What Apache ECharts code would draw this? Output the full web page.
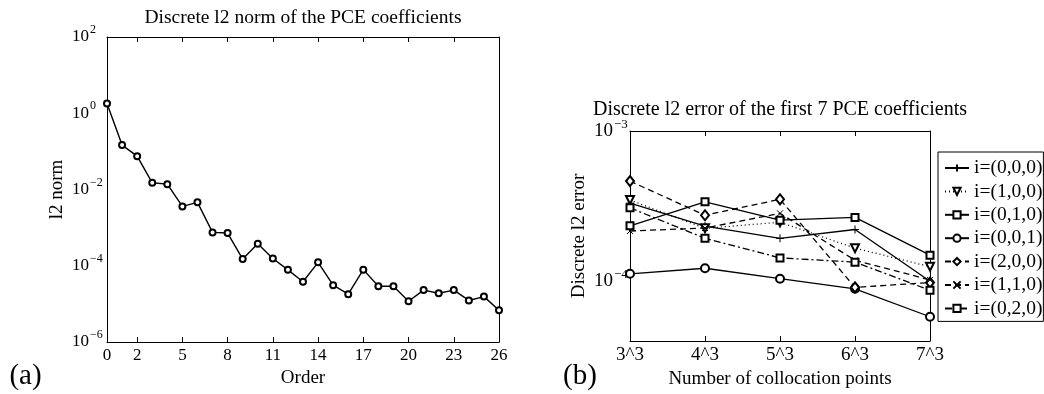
<!DOCTYPE html>
<html>
<head>
<meta charset="utf-8">
<script src="https://cdn.jsdelivr.net/npm/echarts@6/dist/echarts.min.js"></script>
<style>
html, body { margin: 0; padding: 0; background: #fff; }
#chart { width: 1044px; height: 394px; }
</style>
</head>
<body>
<div id="chart"></div>
<script>
// left panel: l2 norm per order
const orders = ['0','1','2','3','4','5','6','7','8','9','10','11','12','13','14','15','16','17','18','19','20','21','22','23','24','25','26'];
const orderTicks = [0, 2, 5, 8, 11, 14, 17, 20, 23, 26];
const l2Norm = [1.8, 0.146, 0.075, 0.015, 0.0138, 0.0036, 0.0046, 7.5e-4, 7.2e-4, 1.5e-4,
    3.8e-4, 1.55e-4, 7.8e-5, 3.8e-5, 1.23e-4, 3.1e-5, 1.8e-5, 7.9e-5, 2.9e-5, 2.9e-5,
    1.17e-5, 2.3e-5, 1.9e-5, 2.3e-5, 1.23e-5, 1.55e-5, 6.8e-6];

// right panel: error of the first 7 coefficients
const points = ['3^3', '4^3', '5^3', '6^3', '7^3'];
const err000 = [3.31e-4, 2.33e-4, 1.93e-4, 2.21e-4, 1.0e-4];
const err100 = [3.47e-4, 2.25e-4, 2.47e-4, 1.66e-4, 1.25e-4];
const err010 = [2.34e-4, 3.38e-4, 2.55e-4, 2.66e-4, 1.49e-4];
const err001 = [1.12e-4, 1.22e-4, 1.04e-4, 8.9e-5, 5.8e-5];
const err200 = [4.64e-4, 2.75e-4, 3.51e-4, 9.1e-5, 9.8e-5];
const err110 = [2.16e-4, 2.26e-4, 2.83e-4, 1.38e-4, 1.02e-4];
const err020 = [3.08e-4, 1.93e-4, 1.43e-4, 1.34e-4, 8.7e-5];

const FONT = 'Liberation Serif';
const PLUS = 'path://M0,5L10,5M5,0L5,10';
const CROSS = 'path://M0,0L10,10M10,0L0,10';

function powLabel(v) {
    const e = Math.round(Math.log10(v));
    if (Math.abs(Math.log10(v) - e) > 1e-6) return '';
    return '{b|10}{s|' + (e < 0 ? '\u2212' + (-e) : e) + '}';
}
function powRich(size) {
    return {
        b: { fontFamily: FONT, fontSize: size, color: '#000', lineHeight: 26, verticalAlign: 'middle' },
        s: { fontFamily: FONT, fontSize: Math.round(size * 0.7), color: '#000', verticalAlign: 'top', padding: [0, 0, 0, 1] }
    };
}

const tickSet = new Set(orderTicks);
const showOrder = (idx) => tickSet.has(idx);

const axisLine = { show: true, lineStyle: { color: '#000', width: 1 } };

function mirrorX(gridIndex, data, interval) {
    return {
        type: 'category', gridIndex: gridIndex, position: 'top', data: data, boundaryGap: false,
        axisLine: axisLine, axisLabel: { show: false },
        axisTick: { inside: true, length: 5, interval: interval, lineStyle: { color: '#000' } },
        splitLine: { show: false }
    };
}

const option = {
    animation: false,
    backgroundColor: '#fff',
    grid: [
        { left: 107, top: 37, width: 392, height: 305, outerBoundsMode: 'none', containLabel: false },
        { left: 630, top: 131, width: 300, height: 210, outerBoundsMode: 'none', containLabel: false }
    ],
    xAxis: [
        {
            type: 'category', gridIndex: 0, data: orders, boundaryGap: false,
            name: 'Order', nameLocation: 'middle', nameGap: 21,
            nameTextStyle: { fontFamily: FONT, fontSize: 19, color: '#000' },
            axisLine: axisLine,
            axisTick: { inside: true, length: 5, interval: showOrder, lineStyle: { color: '#000' } },
            axisLabel: { interval: showOrder, margin: 5, fontFamily: FONT, fontSize: 17, color: '#000' },
            splitLine: { show: false }
        },
        mirrorX(0, orders, showOrder),
        {
            type: 'category', gridIndex: 1, data: points, boundaryGap: false,
            name: 'Number of collocation points', nameLocation: 'middle', nameGap: 23,
            nameTextStyle: { fontFamily: FONT, fontSize: 19, color: '#000' },
            axisLine: axisLine,
            axisTick: { inside: true, length: 5, lineStyle: { color: '#000' } },
            axisLabel: { margin: 5, fontFamily: FONT, fontSize: 19, color: '#000' },
            splitLine: { show: false }
        },
        mirrorX(1, points, 0)
    ],
    yAxis: [
        {
            type: 'log', gridIndex: 0, min: 1e-6, max: 1e2, interval: 2,
            name: 'l2 norm', nameLocation: 'middle', nameGap: 40,
            nameTextStyle: { fontFamily: FONT, fontSize: 19, color: '#000' },
            axisLine: axisLine,
            axisTick: { inside: true, length: 5, lineStyle: { color: '#000' } },
            axisLabel: { margin: 35, align: 'left', formatter: powLabel, rich: powRich(17) },
            splitLine: { show: false }
        },
        {
            type: 'log', gridIndex: 0, position: 'right', min: 1e-6, max: 1e2, interval: 2,
            axisLine: axisLine, axisLabel: { show: false },
            axisTick: { inside: true, length: 5, lineStyle: { color: '#000' } },
            splitLine: { show: false }
        },
        {
            type: 'log', gridIndex: 1, min: 4e-5, max: 1e-3,
            name: 'Discrete l2 error', nameLocation: 'middle', nameGap: 41,
            nameTextStyle: { fontFamily: FONT, fontSize: 19, color: '#000' },
            axisLine: axisLine,
            axisTick: { inside: true, length: 5, lineStyle: { color: '#000' } },
            axisLabel: { margin: 36, align: 'left', formatter: powLabel, rich: powRich(19), showMinLabel: false },
            splitLine: { show: false }
        },
        {
            type: 'log', gridIndex: 1, position: 'right', min: 4e-5, max: 1e-3,
            axisLine: axisLine, axisLabel: { show: false },
            axisTick: { inside: true, length: 5, lineStyle: { color: '#000' } },
            splitLine: { show: false }
        }
    ],
    legend: {
        orient: 'vertical', left: 938, top: 152,
        padding: [6, 1, 3, 6], itemGap: 3.4, itemWidth: 24, itemHeight: 9,
        borderColor: '#000', borderWidth: 1, backgroundColor: '#fff',
        textStyle: { fontFamily: FONT, fontSize: 19.5, color: '#000' },
        data: ['i=(0,0,0)', 'i=(1,0,0)', 'i=(0,1,0)', 'i=(0,0,1)', 'i=(2,0,0)', 'i=(1,1,0)', 'i=(0,2,0)']
    },
    graphic: [
        { type: 'text', x: 303, y: 17.5, style: { text: 'Discrete l2 norm of the PCE coefficients', font: '19.5px "Liberation Serif"', fill: '#000', textAlign: 'center', textVerticalAlign: 'middle' } },
        { type: 'text', x: 780, y: 110, style: { text: 'Discrete l2 error of the first 7 PCE coefficients', font: '20px "Liberation Serif"', fill: '#000', textAlign: 'center', textVerticalAlign: 'middle' } },
        { type: 'text', x: 25.5, y: 376, style: { text: '(a)', font: '29px "Liberation Serif"', fill: '#000', textAlign: 'center', textVerticalAlign: 'middle' } },
        { type: 'text', x: 580, y: 376, style: { text: '(b)', font: '29px "Liberation Serif"', fill: '#000', textAlign: 'center', textVerticalAlign: 'middle' } }
    ],
    series: []
};

option.series.push({
    type: 'line', xAxisIndex: 0, yAxisIndex: 0, data: l2Norm,
    symbol: 'emptyCircle', symbolSize: 6,
    itemStyle: { color: '#000', borderWidth: 1 },
    lineStyle: { color: '#000', width: 1.4 }
});

function errSeries(name, data, symbol, dash, extra) {
    return Object.assign({
        type: 'line', name: name, xAxisIndex: 2, yAxisIndex: 2, data: data,
        symbol: symbol, symbolSize: 8,
        itemStyle: { color: '#000', borderColor: '#000', borderWidth: 1 },
        lineStyle: { color: '#000', width: 1.3, type: dash }
    }, extra || {});
}

option.series.push(
    errSeries('i=(0,0,0)', err000, PLUS, 'solid'),
    errSeries('i=(1,0,0)', err100, 'emptyTriangle', [1, 3], { symbolRotate: 180 }),
    errSeries('i=(0,1,0)', err010, 'emptyRect', 'solid', { symbolSize: 7 }),
    errSeries('i=(0,0,1)', err001, 'emptyCircle', 'solid'),
    errSeries('i=(2,0,0)', err200, 'emptyDiamond', [6, 4], { symbolSize: [8, 10] }),
    errSeries('i=(1,1,0)', err110, CROSS, [6, 4], { symbolSize: 6 }),
    errSeries('i=(0,2,0)', err020, 'emptyRect', [7, 3, 2, 3], { symbolSize: 7 })
);

const chart = echarts.init(document.getElementById('chart'), null, { renderer: 'canvas' });
chart.setOption(option);
</script>
</body>
</html>
